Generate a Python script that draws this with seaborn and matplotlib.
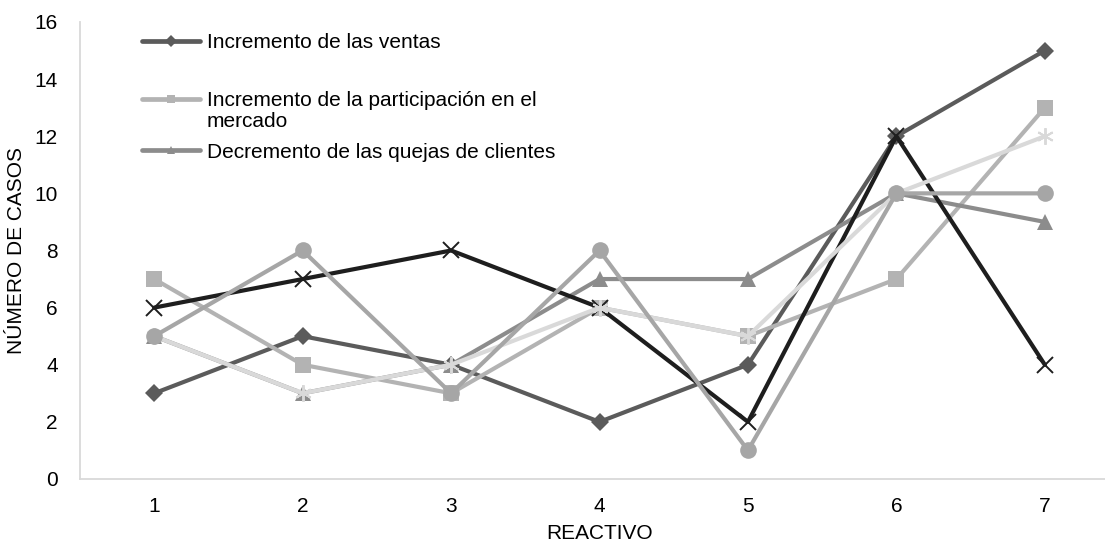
import pandas as pd
import numpy as np
import seaborn as sns
import matplotlib.pyplot as plt
from matplotlib.lines import Line2D

# reactivos (x axis categories)
reactivos = [1, 2, 3, 4, 5, 6, 7]

# number of cases per series
ventas = [3, 5, 4, 2, 4, 12, 15]        # diamond
participacion = [7, 4, 3, 6, 5, 7, 13]  # square
quejas = [5, 3, 4, 7, 7, 10, 9]         # triangle
serie_x = [6, 7, 8, 6, 2, 12, 4]        # X marker, not in legend
serie_ast = [5, 3, 4, 6, 5, 10, 12]     # asterisk, not in legend
serie_circ = [5, 8, 3, 8, 1, 10, 10]    # circle, not in legend

legend_labels = [
    'Incremento de las ventas',
    'Incremento de la participación en el',
    'Decremento de las quejas de clientes',
]

series_names = ['ventas', 'participacion', 'quejas', 'x', 'ast', 'circ']
series_values = [ventas, participacion, quejas, serie_x, serie_ast, serie_circ]

df = pd.DataFrame({
    'reactivo': np.tile(reactivos, len(series_names)),
    'casos': np.concatenate(series_values),
    'serie': np.repeat(series_names, len(reactivos)),
})

# styles for each series (Excel grayscale look)
styles = {
    'ventas':        dict(color='#5b5b5b', marker='D', ms=9),
    'participacion': dict(color='#b3b3b3', marker='s', ms=12),
    'quejas':        dict(color='#8c8c8c', marker='^', ms=12),
    'x':             dict(color='#1e1e1e', marker='x', ms=12, mew=1.4),
    'ast':           dict(color='#d9d9d9', marker=(6, 2, 0), ms=12, mew=1.4),
    'circ':          dict(color='#a6a6a6', marker='o', ms=12),
}

sns.set_style('white')
plt.rcParams['font.family'] = ['Liberation Sans', 'DejaVu Sans']
plt.rcParams['font.size'] = 15
plt.rcParams.update({'text.color': 'black', 'axes.labelcolor': 'black',
                     'xtick.color': 'black', 'ytick.color': 'black'})

fig = plt.figure(figsize=(11.05, 5.43), dpi=100)
ax = fig.add_axes([0.0724, 0.1179, 0.9403, 0.8416])

for name in series_names:
    st = styles[name]
    sns.lineplot(data=df[df['serie'] == name], x='reactivo', y='casos', ax=ax,
                 color=st['color'], marker=st['marker'], markersize=st['ms'],
                 markeredgewidth=st.get('mew', 0), markeredgecolor=st['color'],
                 markerfacecolor=st['color'], linewidth=3.0, legend=False)

ax.set_xlim(0.5, 7.5)
ax.set_ylim(0, 16)
ax.set_xticks(reactivos)
ax.set_yticks(range(0, 17, 2))
ax.tick_params(axis='both', length=0, labelsize=15)
ax.tick_params(axis='x', pad=13)
ax.tick_params(axis='y', pad=16)

for side in ['top', 'right']:
    ax.spines[side].set_visible(False)
for side in ['left', 'bottom']:
    ax.spines[side].set_color('#d9d9d9')
    ax.spines[side].set_linewidth(1.3)

ax.set_xlabel('REACTIVO', fontsize=15)
ax.set_ylabel('NÚMERO DE CASOS', fontsize=15)
ax.xaxis.set_label_coords(0.5, -0.098)
ax.yaxis.set_label_coords(-0.052, 0.5)

# legend only for the first three series, placed like the Excel chart
def proxy(name):
    st = styles[name]
    return Line2D([], [], color=st['color'], lw=3.4, marker=st['marker'],
                  markersize=6, markeredgewidth=0)

leg_kw = dict(frameon=False, loc='center left', borderpad=0, borderaxespad=0,
              handlelength=2.8, handletextpad=0.3, fontsize=15,
              bbox_transform=fig.transFigure)

leg1 = ax.legend([proxy('ventas')], [legend_labels[0]],
                 bbox_to_anchor=(142 / 1105, 1 - 43 / 543), **leg_kw)
ax.add_artist(leg1)
blank = Line2D([], [], linestyle='none')
leg2 = ax.legend([proxy('participacion'), blank], [legend_labels[1], 'mercado'],
                 bbox_to_anchor=(142 / 1105, 1 - 111 / 543), labelspacing=0.1, **leg_kw)
ax.add_artist(leg2)
ax.legend([proxy('quejas')], [legend_labels[2]],
          bbox_to_anchor=(142 / 1105, 1 - 152 / 543), **leg_kw)

fig.savefig('out.png', dpi=100)
